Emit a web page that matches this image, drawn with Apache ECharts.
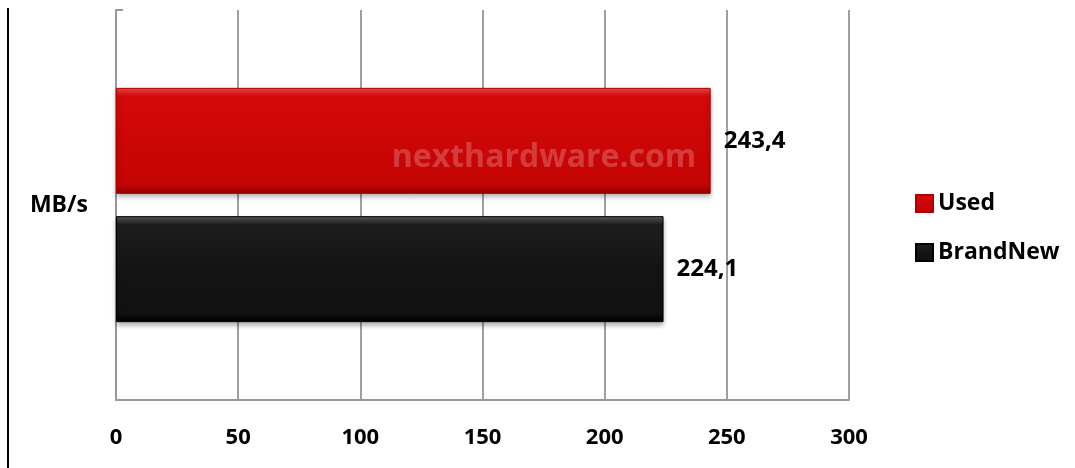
<!DOCTYPE html>
<html>
<head>
<meta charset="utf-8">
<script src="https://cdn.jsdelivr.net/npm/echarts@6/dist/echarts.min.js"></script>
<style>
  html, body { margin: 0; padding: 0; background: #fff; }
  #chart { width: 1075px; height: 468px; }
</style>
</head>
<body>
<div id="chart"></div>
<script>
// data
const categories = ['MB/s']
const seriesNames = ['Used', 'BrandNew']
const usedValues = [243.4]
const brandNewValues = [224.1]
const xTicks = [0, 50, 100, 150, 200, 250, 300]

const FONT = '"Open Sans"'

const redFill = new echarts.graphic.LinearGradient(0, 0, 0, 1, [
  { offset: 0, color: '#f04a4a' },
  { offset: 0.08, color: '#d60808' },
  { offset: 0.5, color: '#cc0606' },
  { offset: 0.92, color: '#c40404' },
  { offset: 1, color: '#8a0000' }
])
const blackFill = new echarts.graphic.LinearGradient(0, 0, 0, 1, [
  { offset: 0, color: '#5a5a5a' },
  { offset: 0.08, color: '#1e1e1e' },
  { offset: 0.5, color: '#141414' },
  { offset: 0.92, color: '#111111' },
  { offset: 1, color: '#000000' }
])

const valueLabel = {
  show: true,
  position: 'right',
  distance: 13,
  color: '#000',
  fontFamily: FONT,
  fontWeight: 'bold',
  fontSize: 24,
  formatter: p => String(p.value).replace('.', ',')
}

const chart = echarts.init(document.getElementById('chart'))
chart.setOption({
  backgroundColor: '#fff',
  animation: false,
  grid: { left: 116, right: 226, top: 10, bottom: 68 },
  legend: {
    data: seriesNames,
    orient: 'vertical',
    left: 910,
    top: 187,
    itemWidth: 17,
    itemHeight: 17,
    itemGap: 26,
    icon: 'rect',
    textStyle: { color: '#000', fontFamily: FONT, fontWeight: 'bold', fontSize: 23 }
  },
  xAxis: {
    type: 'value',
    min: xTicks[0],
    max: xTicks[xTicks.length - 1],
    interval: 50,
    axisLine: { show: true, lineStyle: { color: '#999', width: 2 } },
    axisTick: { show: false },
    axisLabel: {
      margin: 27,
      color: '#000',
      fontFamily: FONT,
      fontWeight: 'bold',
      fontSize: 22
    },
    splitLine: { show: true, lineStyle: { color: '#a0a0a0', width: 2 } }
  },
  yAxis: {
    type: 'category',
    data: categories,
    inverse: true,
    axisLine: { show: true, lineStyle: { color: '#999', width: 2 } },
    axisTick: { show: true, inside: true, length: 7, lineStyle: { color: '#999', width: 2 } },
    axisLabel: {
      margin: 28,
      color: '#000',
      fontFamily: FONT,
      fontWeight: 'bold',
      fontSize: 23
    }
  },
  series: [
    {
      name: seriesNames[0],
      type: 'bar',
      data: usedValues,
      barWidth: 106,
      barGap: '21%',
      itemStyle: {
        color: redFill,
        borderColor: '#b00000',
        borderWidth: 1,
        shadowColor: 'rgba(0,0,0,0.35)',
        shadowBlur: 5,
        shadowOffsetY: 3
      },
      label: valueLabel
    },
    {
      name: seriesNames[1],
      type: 'bar',
      data: brandNewValues,
      barWidth: 106,
      barGap: '21%',
      itemStyle: {
        color: blackFill,
        borderColor: '#000',
        borderWidth: 1,
        shadowColor: 'rgba(0,0,0,0.35)',
        shadowBlur: 5,
        shadowOffsetY: 3
      },
      label: valueLabel
    }
  ],
  graphic: [
    {
      type: 'line',
      shape: { x1: 8, y1: 8, x2: 8, y2: 468 },
      style: { stroke: '#000', lineWidth: 2 }
    },
    {
      type: 'text',
      x: 544,
      y: 158,
      z: 100,
      style: {
        text: 'nexthardware.com',
        fill: 'rgba(255,255,255,0.22)',
        font: 'bold 32px ' + FONT,
        align: 'center',
        verticalAlign: 'middle'
      }
    }
  ]
})
</script>
</body>
</html>
